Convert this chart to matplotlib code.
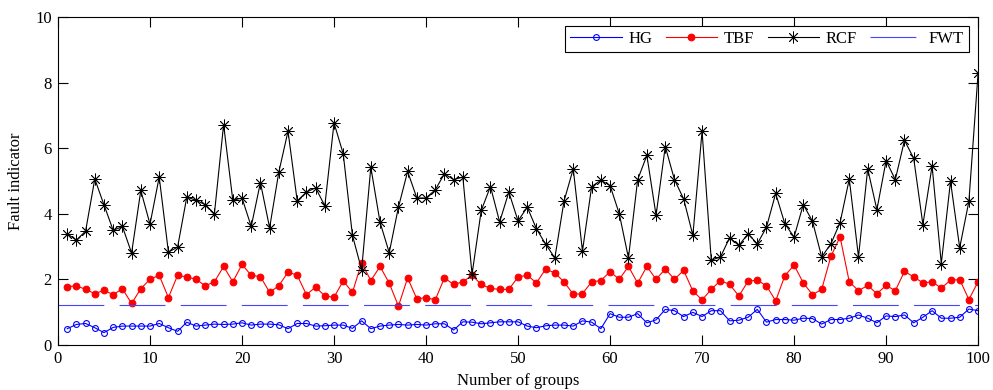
import numpy as np
import matplotlib
matplotlib.use('Agg')
import matplotlib.pyplot as plt

plt.rcParams['font.family'] = ['Liberation Serif', 'DejaVu Serif']
plt.rcParams['lines.scale_dashes'] = False
FS = 12

groups = np.arange(1, 101)

HG = [0.49, 0.62, 0.65, 0.52, 0.37, 0.53, 0.57, 0.57, 0.57, 0.57,
      0.65, 0.52, 0.41, 0.69, 0.57, 0.60, 0.63, 0.62, 0.63, 0.67,
      0.60, 0.63, 0.63, 0.61, 0.49, 0.65, 0.65, 0.57, 0.58, 0.60,
      0.60, 0.50, 0.73, 0.49, 0.57, 0.60, 0.62, 0.60, 0.62, 0.60,
      0.64, 0.64, 0.45, 0.70, 0.69, 0.64, 0.67, 0.70, 0.70, 0.70,
      0.57, 0.52, 0.58, 0.60, 0.60, 0.57, 0.73, 0.69, 0.49, 0.95,
      0.84, 0.84, 0.95, 0.67, 0.76, 1.08, 1.04, 0.86, 0.99, 0.86,
      1.04, 1.04, 0.73, 0.75, 0.84, 1.08, 0.69, 0.77, 0.77, 0.75,
      0.81, 0.80, 0.63, 0.77, 0.77, 0.81, 0.91, 0.81, 0.67, 0.88,
      0.86, 0.91, 0.67, 0.84, 1.04, 0.81, 0.81, 0.84, 1.09, 1.04]

TBF = [1.77, 1.80, 1.69, 1.56, 1.66, 1.53, 1.71, 1.26, 1.71, 2.00,
       2.12, 1.44, 2.12, 2.07, 2.00, 1.80, 1.92, 2.39, 1.92, 2.45,
       2.12, 2.08, 1.60, 1.80, 2.22, 2.12, 1.53, 1.76, 1.49, 1.45,
       1.95, 1.60, 2.50, 1.96, 2.39, 1.88, 1.18, 2.04, 1.40, 1.44,
       1.37, 2.04, 1.84, 1.92, 2.12, 1.84, 1.72, 1.69, 1.69, 2.07,
       2.12, 1.89, 2.31, 2.19, 1.92, 1.54, 1.56, 1.92, 1.96, 2.23,
       2.00, 2.39, 1.88, 2.39, 2.00, 2.31, 2.00, 2.27, 1.64, 1.37,
       1.69, 1.96, 1.84, 1.49, 1.94, 1.97, 1.80, 1.34, 2.11, 2.43,
       1.89, 1.53, 1.69, 2.70, 3.29, 1.92, 1.65, 1.81, 1.56, 1.81,
       1.65, 2.24, 2.07, 1.89, 1.92, 1.73, 1.97, 1.99, 1.38, 1.93]

RCF = [3.39, 3.19, 3.47, 5.06, 4.27, 3.49, 3.61, 2.80, 4.71, 3.68,
       5.12, 2.83, 2.98, 4.51, 4.41, 4.28, 4.00, 6.72, 4.41, 4.48,
       3.61, 4.95, 3.57, 5.27, 6.52, 4.39, 4.66, 4.79, 4.24, 6.77,
       5.83, 3.34, 2.29, 5.42, 3.74, 2.81, 4.20, 5.29, 4.48, 4.48,
       4.73, 5.22, 5.04, 5.12, 2.15, 4.10, 4.83, 3.75, 4.66, 3.78,
       4.20, 3.54, 3.07, 2.65, 4.39, 5.37, 2.86, 4.83, 5.02, 4.86,
       4.00, 2.65, 5.04, 5.78, 3.95, 6.05, 5.04, 4.45, 3.34, 6.52,
       2.58, 2.68, 3.27, 3.03, 3.39, 3.08, 3.59, 4.62, 3.69, 3.29,
       4.28, 3.77, 2.68, 3.08, 3.73, 5.06, 2.68, 5.37, 4.12, 5.62,
       5.04, 6.24, 5.69, 3.67, 5.46, 2.48, 4.99, 2.96, 4.38, 8.30]

FWT_x = [0, 100]
FWT = [1.2, 1.2]

fig = plt.figure(figsize=(9.93, 3.9), dpi=100)
ax = fig.add_axes([0.0584, 0.116, 0.9266, 0.840])

ax.plot(groups, HG, '-o', color='b', lw=0.8, ms=4.2, mfc='none', mew=0.8, label='HG')
ax.plot(groups, TBF, '-o', color='r', lw=0.8, ms=4.8, mfc='r', mew=0.8, label='TBF')
ax.plot(groups, RCF, '-', color='k', lw=0.8, marker=(8, 2, 0), ms=8.5, mew=0.6, label='RCF')
ax.plot(FWT_x, FWT, color='#4646ff', lw=0.8, ls=(0, (33, 11)), label='FWT')

ax.set_xlim(0, 100)
ax.set_ylim(0, 10)
ax.set_xticks(np.arange(0, 101, 10))
ax.set_yticks(np.arange(0, 11, 2))
ax.tick_params(direction='in', top=True, right=True, length=7, width=0.8,
               labelsize=FS, pad=4.5)
for sp in ax.spines.values():
    sp.set_linewidth(0.8)

ax.set_xlabel('Number of groups', fontsize=FS, labelpad=4)
ax.set_ylabel('Fault indicator', fontsize=FS, labelpad=8)

leg = ax.legend(loc='upper right', ncol=4, fontsize=FS, fancybox=False, edgecolor='k',
                framealpha=1, handlelength=3.1, handletextpad=0.4, columnspacing=0.8,
                borderaxespad=0.55, borderpad=0.3)
leg.get_frame().set_linewidth(0.8)

fig.savefig('out.png', dpi=100)
